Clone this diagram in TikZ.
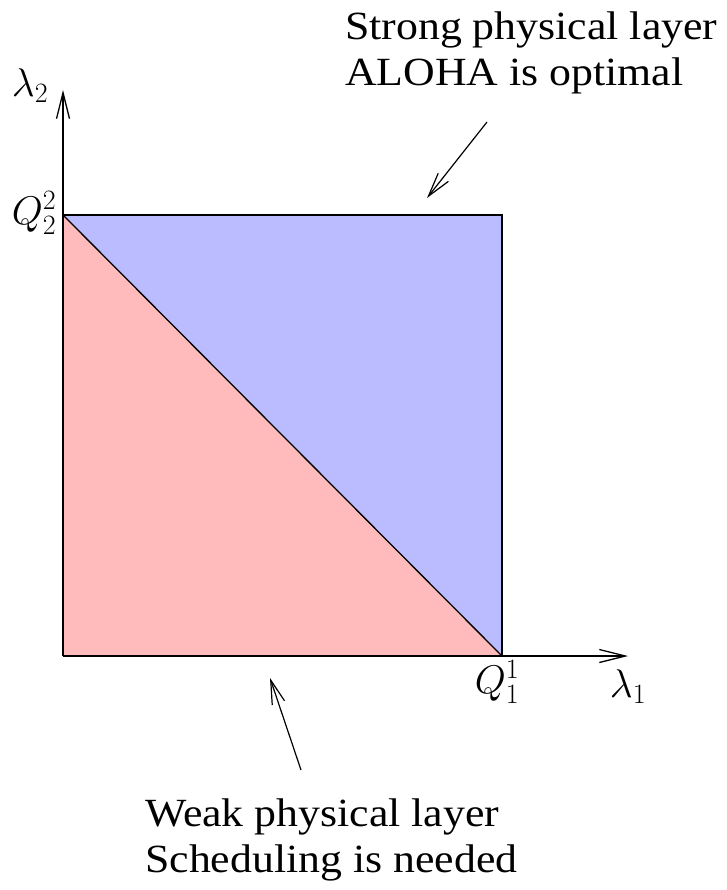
\RequirePackage{fix-cm}
\documentclass[tikz,border=0pt]{standalone}
\usepackage[no-math]{fontspec}
\setmainfont{Liberation Serif}
\usetikzlibrary{arrows.meta,positioning}
\definecolor{strongfill}{RGB}{187,187,255}
\definecolor{weakfill}{RGB}{255,187,187}
\tikzset{
  axis/.style={-{Straight Barb[length=26pt,width=13pt]},line width=1.3pt},
  ptr/.style={-{Straight Barb[length=24pt,width=13pt]},line width=1.2pt},
  edge/.style={line width=1.3pt},
  lbl/.style={inner sep=0pt,font=\fontsize{40}{46}\selectfont},
  note/.style={inner sep=0pt,align=left,anchor=north west,xscale=1.095,
               font=\fontsize{40}{46}\selectfont},
}

\begin{document}
\begin{tikzpicture}[x=1pt,y=-1pt]
  \useasboundingbox (0,0) rectangle (726,890);
  % region corners
  \coordinate (O) at (63,656);
  \coordinate (Q2) at (63,215);
  \coordinate (Q1) at (502,656);
  \coordinate (C) at (502,215);
  \coordinate (ytip) at (63,90);
  \coordinate (xtip) at (628,656);
  \fill[weakfill] (O) -- (Q2) -- (Q1) -- cycle;
  \fill[strongfill] (Q2) -- (C) -- (Q1) -- cycle;
  \draw[edge] (Q2) -- (C) -- (Q1);
  \draw[edge] (Q2) -- (Q1);
  \draw[axis] (O) -- (ytip);
  \draw[axis] (O) -- (xtip);
  \node[lbl] (l2) at (30,86) {$\lambda_2$};
  \node[lbl] (l1) at (628,687) {$\lambda_1$};
  \node[lbl] (q2) at (34,213) {$Q_2^2$};
  \node[lbl] (q1) at (497,682) {$Q_1^1$};
  % the two regions
  \node[note] (strong) at (345,12) {Strong physical layer\\ALOHA is optimal};
  \node[note] (weak) at (145,799) {Weak physical layer\\Scheduling is needed};
  \coordinate (s0) at (487,122);
  \coordinate (s1) at (427,198);
  \coordinate (w0) at (301,770);
  \coordinate (w1) at (270,678);
  \draw[ptr] (s0) -- (s1);
  \draw[ptr] (w0) -- (w1);
\end{tikzpicture}
\end{document}
